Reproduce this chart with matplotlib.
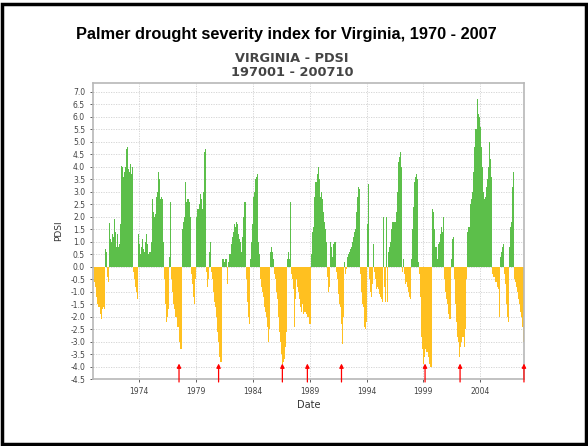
import numpy as np
import matplotlib
matplotlib.use('Agg')
import matplotlib.pyplot as plt
from matplotlib.patches import Rectangle

# Monthly PDSI values, Jan 1970 - Oct 2007
pdsi_1970s = [
    -0.6, -0.8, -1.0, -1.2, -1.5, -1.6, -1.6, -1.9, -2.1, -1.7, -1.6, -1.7,
    0.7, 0.6, -0.4, -0.6, 1.75, 1.1, 1.0, 1.3, 1.2, 2.1, 1.9, 1.4,
    0.8, 1.3, 0.8, 0.9, 1.7, 4.05, 4.0, 3.6, 3.8, 4.0, 4.7, 4.8,
    3.9, 3.8, 4.1, 3.7, 4.15, 4.0, -0.2, -0.5, -0.8, -1.0, -1.3, 1.3,
    0.9, 0.5, 0.8, 1.1, 0.7, 0.6, 1.0, 1.3, 0.9, 0.5, 0.6, 1.0,
    0.6, 1.0, 2.7, 2.2, 2.0, 2.1, 2.8, 3.0, 3.8, 3.5, 2.7, 2.8,
    2.7, 1.0, -0.5, -1.5, -2.2, -2.0, -2.2, -1.7, 0.4, 2.6, -0.5, -1.0,
    -1.5, -1.7, -2.0, -2.0, -2.4, -2.4, -3.0, -3.3, -3.3, 1.5, 1.8, 2.0,
    3.4, 2.6, 2.6, 2.7, 2.7, 2.6, 2.0, -0.3, -0.7, -1.2, -1.5, -0.5,
    2.0, 2.3, 2.3, 2.5, 2.9, 2.7, 2.3, 3.0, 4.5, 4.6, 4.7, -0.2,
]
pdsi_1980s = [
    -0.8, -0.5, 0.6, 1.0, -0.2, -0.5, -1.0, -1.4, -1.6, -2.0, -2.6, -3.0,
    -3.6, -3.8, -3.8, -3.0, 0.3, 0.3, 0.2, 0.3, 0.3, -0.7, 0.2, 0.5,
    0.5, 0.9, 1.2, 1.4, 1.7, 1.6, 1.8, 1.7, 1.3, 1.1, 1.0, 1.0,
    0.6, 1.2, 2.0, 2.6, 2.6, -0.5, -1.4, -2.0, -2.3, 0.3, 1.0, 1.7,
    2.8, 3.0, 3.5, 3.6, 3.7, 2.5, 1.0, 0.5, -0.5, -0.8, -1.0, -1.2,
    -1.6, -1.8, -2.0, -2.4, -3.0, -2.5, 0.6, 0.8, 0.6, 0.3, -0.3, -0.5,
    -0.5, -1.0, -1.3, -2.0, -2.6, -3.0, -3.5, -3.9, -3.8, -3.7, -3.2, -2.6,
    0.3, 0.6, 0.3, 2.6, -0.3, -0.5, -0.9, -1.2, -2.4, -1.3, -0.5, -0.8,
    -1.0, -1.3, -1.6, -1.8, -1.5, -1.9, -1.8, -1.8, -1.9, -2.0, -2.0, -2.3,
    -2.3, 0.5, 0.8, 1.4, 1.6, 2.8, 3.4, 3.4, 3.7, 4.0, 3.5, 2.8,
]
pdsi_1990s = [
    3.0, 2.7, 2.2, 1.8, 1.5, 1.0, -0.4, -1.0, -0.8, 0.2, 1.0, 0.8,
    0.4, 0.9, 1.0, 1.0, -0.2, -0.5, -1.1, -1.5, -1.6, -2.3, -3.1, -2.0,
    0.2, -0.3, -0.1, 0.4, 0.4, 0.5, 0.6, 0.7, 0.8, 1.0, 1.2, 1.4,
    1.5, 2.2, 2.8, 3.2, 3.1, -0.3, -1.0, -1.5, -1.6, -2.4, -2.5, -2.2,
    0.5, 1.7, 3.3, -0.5, -1.0, -1.2, -0.7, 0.9, -0.2, -0.5, -0.9, -0.8,
    -0.9, -1.1, -1.2, -1.3, -1.4, 2.0, -0.8, -1.4, -1.4, 2.0, -1.4, 0.6,
    0.8, 1.0, 1.5, 1.8, 1.8, 1.8, 1.8, 2.2, 3.0, 4.2, 4.4, 4.6,
    4.0, -0.2, -0.5, 0.3, -0.3, -0.7, -0.6, -0.8, -1.0, -1.2, -1.3, 0.3,
    1.5, 2.4, 3.4, 3.6, 3.7, 3.5, 0.2, -0.3, -1.2, -2.0, -2.8, -3.3,
    -3.9, -3.6, -3.3, -3.4, -3.4, -3.6, -3.9, -4.0, -4.0, 2.3, 2.2, 1.5,
]
pdsi_2000s = [
    0.8, 0.8, 0.3, 0.9, 0.5, 1.0, 1.3, 1.6, 1.4, 2.0, -0.5, -1.0,
    -1.3, -1.5, -1.9, -2.1, -2.1, 0.3, 1.1, 1.2, -0.5, -1.5, -2.2, -2.6,
    -2.8, -3.0, -3.6, -3.2, -3.0, -2.8, -2.8, -3.2, -2.5, -0.5, 1.4, 1.6,
    1.6, 2.5, 2.7, 3.0, 3.8, 4.8, 5.3, 5.5, 5.5, 6.7, 6.1, 6.0,
    5.6, 4.8, 4.0, 3.0, 2.7, 2.8, 3.2, 3.5, 4.0, 5.0, 4.3, 3.6,
    -0.3, -0.5, -0.4, -0.4, -0.6, -0.6, -0.8, -0.9, -2.0, 0.4, 0.6, 0.8,
    0.9, -0.3, -0.7, -1.5, -2.0, -2.2, 0.8, 1.6, 1.4, 1.8, 3.2, 3.8,
    -0.5, -0.6, -0.8, -1.0, -1.3, -1.5, -1.8, -2.0, -2.4, -3.0,
]

# drought events marked with red arrows (decimal years)
arrow_dates = [1977.51, 1980.99, 1986.6, 1988.8, 1991.8, 1999.15, 2002.23, 2007.85]

year_ticks = [1974, 1979, 1984, 1989, 1994, 1999, 2004]

pdsi = np.array(pdsi_1970s + pdsi_1980s + pdsi_1990s + pdsi_2000s)
months = 1970 + np.arange(len(pdsi)) / 12.0

fig = plt.figure(figsize=(5.88, 4.46), dpi=100)
ax = fig.add_axes([0.1577, 0.1502, 0.7334, 0.6637])

colors = np.where(pdsi >= 0, '#5cbf4a', '#ffc020')
ax.bar(months, pdsi, width=1/12, align='edge', color=colors, linewidth=0, zorder=2)

ax.set_xlim(1969.92, 2007.85)
ax.set_ylim(-4.5, 7.36)
ax.set_yticks(np.arange(-4.5, 7.01, 0.5))
ax.set_yticklabels(['%.1f' % v for v in np.arange(-4.5, 7.01, 0.5)])
ax.set_xticks(year_ticks)
ax.tick_params(labelsize=5.5, colors='#444444', length=2, width=0.6)
ax.grid(True, color='#d0d0d0', linestyle=(0, (1.5, 1.5)), linewidth=0.6, zorder=0)
for s in ax.spines.values():
    s.set_color('#b8b8b8')
    s.set_linewidth(1.2)

ax.set_xlabel('Date', fontsize=7, color='#333333', labelpad=3)
ax.set_ylabel('PDSI', fontsize=6.5, color='#333333', labelpad=5)

for d in arrow_dates:
    ax.annotate('', xy=(d, -3.88), xytext=(d, -4.62), annotation_clip=False,
                arrowprops=dict(arrowstyle='-|>', color='#ff0000', lw=0.9,
                                mutation_scale=6, shrinkA=0, shrinkB=0),
                zorder=5)

fig.text(286/588, 1 - 35/446, 'Palmer drought severity index for Virginia, 1970 - 2007',
         ha='center', va='center', fontsize=11.8, fontweight='bold',
         family='Liberation Sans', color='black')
fig.text(292/588, 1 - 59/446, 'VIRGINIA - PDSI', ha='center', va='center',
         fontsize=9.3, fontweight='bold', color='#444444')
fig.text(292/588, 1 - 73/446, '197001 - 200710', ha='center', va='center',
         fontsize=9.3, fontweight='bold', color='#444444')

# slide border
fig.patches.append(Rectangle((2/588, 2/446), 584/588, 440/446, transform=fig.transFigure,
                             fill=False, edgecolor='black', linewidth=2.5))

plt.savefig('out.png', dpi=100)
plt.close()
